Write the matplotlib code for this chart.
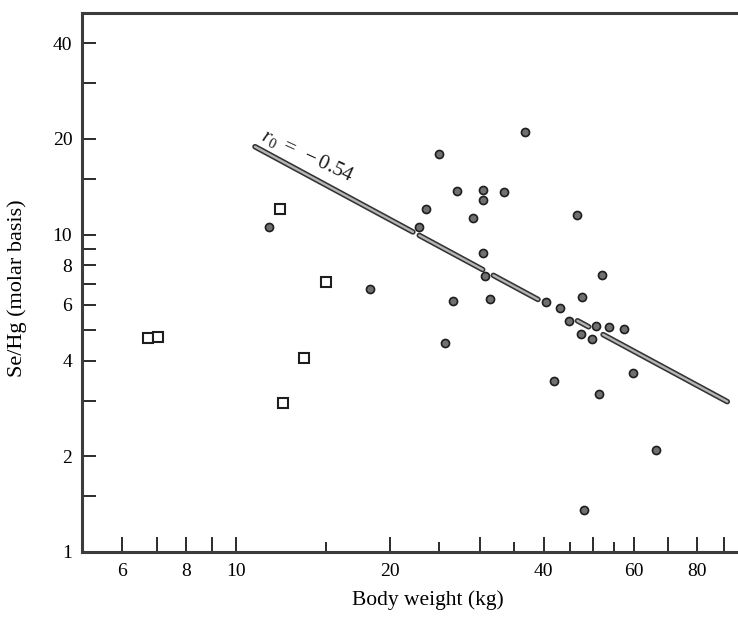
import numpy as np
import matplotlib
matplotlib.use("Agg")
import matplotlib.pyplot as plt
import matplotlib.patheffects as pe
from matplotlib.ticker import FixedLocator, NullFormatter, FixedFormatter

plt.rcParams["font.family"] = ["Liberation Serif", "DejaVu Serif"]
plt.rcParams["mathtext.fontset"] = "custom"
plt.rcParams["mathtext.rm"] = "Liberation Serif"
plt.rcParams["mathtext.it"] = "Liberation Serif:italic"

# Adult animals (filled circles): body weight (kg) and Se/Hg molar ratio
adult_weight = [11.6, 18.3, 36.8, 25.0, 27.1, 30.5, 33.4, 30.4, 23.6, 29.05,
                22.8, 30.5, 30.7, 26.6, 31.4, 25.6, 46.5, 52.1, 47.6, 40.4,
                43.1, 44.9, 50.6, 53.6, 57.4, 47.3, 49.7, 59.9, 41.9, 51.3,
                66.3, 48.0]
adult_ratio = [10.56, 6.72, 21.0, 17.9, 13.74, 13.78, 13.6, 12.8, 12.06, 11.25,
               10.54, 8.73, 7.40, 6.19, 6.28, 4.55, 11.54, 7.45, 6.37, 6.14,
               5.86, 5.35, 5.16, 5.12, 5.04, 4.85, 4.69, 3.67, 3.46, 3.15,
               2.09, 1.36]

# Young animals (open squares)
young_weight = [12.2, 15.0, 6.72, 7.03, 13.6, 12.35]
young_ratio = [12.0, 7.10, 4.73, 4.76, 4.09, 2.95]

# Power-law regression: ratio = a * weight ** b
fit_a = 150.7
fit_b = -0.869
fit_range = (10.9, 91.5)
# stretches left open where the band would run into a marker
fit_gaps = [(22.2, 22.85), (30.4, 31.9), (39.0, 46.6), (49.0, 52.3)]
fit_label = r"$\mathit{r_0\ =\ -0.54}$"

x_major = [6, 7, 8, 9, 10, 20, 30, 40, 50, 60, 70, 80, 90]
x_minor = [15, 25, 35, 45, 55]
x_labels = {6: "6", 8: "8", 10: "10", 20: "20", 40: "40", 60: "60", 80: "80"}
y_ticks = [1, 1.5, 2, 3, 4, 5, 6, 7, 8, 9, 10, 15, 20, 30, 40]
y_labels = {1: "1", 2: "2", 4: "4", 6: "6", 8: "8", 10: "10", 20: "20", 40: "40"}

ink = "#2b2b2b"

fig = plt.figure(figsize=(7.38, 6.18), dpi=100)
ax_h = 539.4
ax = fig.add_axes([82 / 738, 66 / 618, 665 / 738, ax_h / 618])
ax.set_xscale("log")
ax.set_yscale("log")
ax.set_xlim(5, 100)
ax.set_ylim(1, 50)

# regression band, drawn piecewise between the gaps
edges = [fit_range[0]]
for g0, g1 in fit_gaps:
    edges += [g0, g1]
edges.append(fit_range[1])
for x0, x1 in zip(edges[0::2], edges[1::2]):
    xs = np.geomspace(x0, x1, 50)
    ax.plot(xs, fit_a * xs ** fit_b, color="#b5b5b5", lw=1.7,
            solid_capstyle="round", zorder=2,
            path_effects=[pe.Stroke(linewidth=4.0, foreground="#333333",
                                    capstyle="round"), pe.Normal()])

ax.plot(adult_weight, adult_ratio, linestyle="none", marker="o",
        markersize=5.8, markerfacecolor="#707070", markeredgecolor="#1e1e1e",
        markeredgewidth=1.2, zorder=3)
ax.plot(young_weight, young_ratio, linestyle="none", marker="s",
        markersize=6.6, markerfacecolor="white", markeredgecolor="#1e1e1e",
        markeredgewidth=1.5, zorder=3)

ax.text(11.15, 19.9, fit_label, fontsize=15, rotation=-25,
        rotation_mode="anchor", ha="left", va="baseline", color="#1a1a1a")

# axes frame
for side in ("left", "bottom", "top"):
    ax.spines[side].set_linewidth(2.2)
    ax.spines[side].set_color("#3c3c3c")
ax.spines["right"].set_visible(False)

ax.xaxis.set_major_locator(FixedLocator(x_major))
ax.xaxis.set_minor_locator(FixedLocator(x_minor))
ax.xaxis.set_major_formatter(FixedFormatter([x_labels.get(v, "") for v in x_major]))
ax.xaxis.set_minor_formatter(NullFormatter())
ax.yaxis.set_major_locator(FixedLocator(y_ticks))
ax.yaxis.set_minor_locator(FixedLocator([]))
ax.yaxis.set_major_formatter(FixedFormatter([y_labels.get(v, "") for v in y_ticks]))

ax.tick_params(axis="x", which="major", direction="in", length=11, width=1.4,
               color=ink, labelsize=14, pad=8, top=False)
ax.tick_params(axis="x", which="minor", direction="in", length=7, width=1.4,
               color=ink, top=False)
ax.tick_params(axis="y", which="major", direction="in", length=10, width=1.4,
               color=ink, labelsize=14, pad=7, right=False)

ax.set_xlabel("Body weight (kg)", fontsize=15.5)
ax.set_ylabel("Se/Hg (molar basis)", fontsize=16)
ax.xaxis.set_label_coords((428 - 82) / 665, (552 - 600) / ax_h)
ax.xaxis.label.set_va("center")
ax.yaxis.set_label_coords((17 - 82) / 665, (552 - 288) / ax_h)
ax.yaxis.label.set_va("center")

fig.savefig("out.png", dpi=100)
